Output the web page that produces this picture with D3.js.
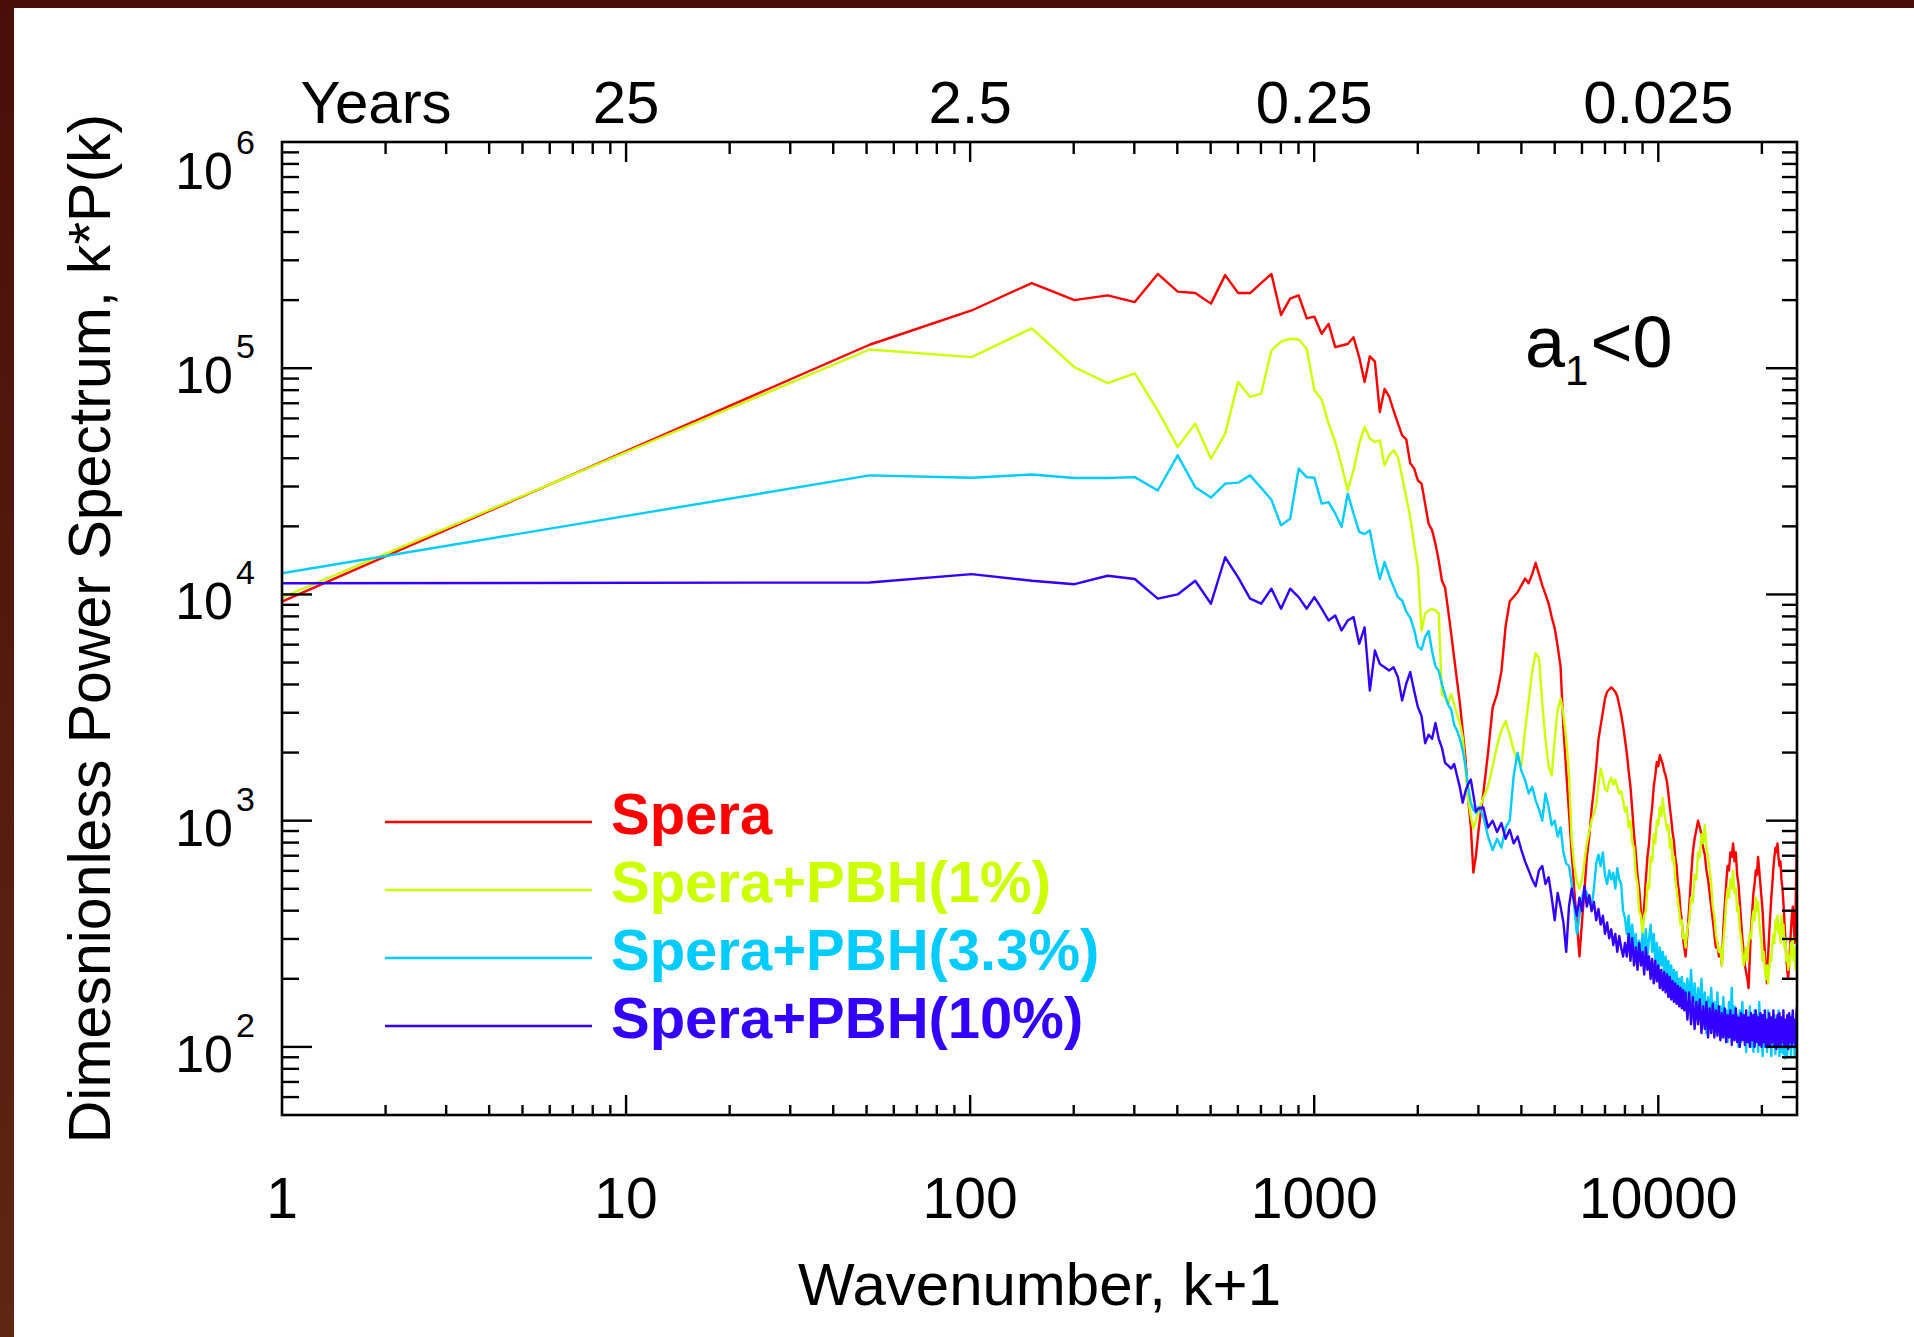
<!DOCTYPE html>
<html><head><meta charset="utf-8">
<script src="https://cdn.jsdelivr.net/npm/d3@7"></script>
<style>html,body{margin:0;padding:0;background:#fff;overflow:hidden;} svg{display:block;} text{font-family:"Liberation Sans",Arial,Helvetica,sans-serif;}</style>
</head><body>
<svg id="chart" width="1914" height="1337"></svg>
<script>
// ---------------- DATA ----------------
// wavenumber k+1, coarse part (data spacing 50)
const wavenumberLow = [
  1, 51, 101, 151, 201, 251, 301, 351, 401, 451,
  501, 551, 601, 651, 701, 751, 801, 851, 901, 951,
  1001, 1051, 1101, 1151, 1201, 1251, 1301, 1351, 1401, 1451,
  1501, 1551, 1601, 1651, 1701, 1751, 1801, 1851, 1901, 1951,
  2001, 2051, 2101, 2151, 2201, 2251, 2301, 2351, 2401, 2451,
  2501, 2551, 2601, 2651, 2701, 2751, 2801, 2851, 2901, 2951,
  3001];
// wavenumber k+1, dense part (read-off positions)
const wavenumberHigh = [
  3100, 3200, 3300, 3400, 3500, 3600, 3700, 3800, 3900, 4000,
  4100, 4200, 4300, 4400, 4500, 4600, 4700, 4800, 4900, 5000,
  5100, 5200, 5300, 5400, 5500, 5600, 5700, 5800, 5900, 6000,
  6100, 6200, 6300, 6400, 6500, 6600, 6700, 6800, 6900, 7000,
  7100, 7200, 7300, 7400, 7500, 7600, 7700, 7800, 7900, 8000,
  8100, 8200, 8300, 8400, 8500, 8600, 8700, 8800, 8900, 9000,
  9100, 9200, 9300, 9400, 9500, 9600, 9700, 9800, 9900, 10000,
  10100, 10200, 10300, 10400, 10500, 10600, 10700, 10800, 10900, 11000,
  11100, 11200, 11300, 11400, 11500, 11600, 11700, 11800, 11900, 12000,
  12150, 12300, 12450, 12600, 12750, 12900, 13050, 13200, 13350, 13500,
  13650, 13800, 13950, 14100, 14250, 14400, 14550, 14700, 14850, 15000,
  15150, 15300, 15450, 15600, 15750, 15900, 16050, 16200, 16350, 16500,
  16650, 16800, 16950, 17100, 17250, 17400, 17550, 17700, 17850, 18000,
  18150, 18300, 18450, 18600, 18750, 18900, 19050, 19200, 19350, 19500,
  19650, 19800, 19950, 20100, 20250, 20400, 20550, 20700, 20850, 21000,
  21150, 21300, 21450, 21600, 21750, 21900, 22050, 22200, 22350, 22500,
  22650, 22800, 22950, 23100, 23250, 23400, 23550, 23700, 23850, 24000,
  24150, 24300, 24450, 24600, 24750, 24900, 25050, 25200, 25300];

const speraLow = [
  9300, 127000, 180000, 238000, 200000, 210000, 196000, 261000, 218000, 215000,
  193000, 258000, 215000, 215000, 238000, 261000, 172000, 203000, 210000, 166000,
  169000, 142000, 157000, 124000, 126000, 128000, 137000, 112000, 87000, 113000,
  107000, 64000, 81000, 75000, 65000, 57000, 50500, 48500, 38000, 36100,
  31900, 30900, 25100, 20500, 19200, 16700, 14100, 11500, 10700, 8500,
  6700, 5250, 4150, 3300, 2500, 1900, 1250, 950, 590, 700,
  900];
const speraHigh = [
  1318, 1995, 3162, 3631, 4571, 7244, 9333, 9772, 10230, 10960,
  11750, 11220, 12300, 13800, 12300, 10960, 10000, 9120, 7943, 7079,
  5888, 4786, 2570, 1660, 1096, 724, 490, 355, 251, 355,
  490, 692, 851, 1122, 1380, 1738, 2291, 2630, 3020, 3467,
  3715, 3802, 3890, 3802, 3715, 3548, 3236, 2951, 2630, 2291,
  1995, 1660, 1413, 1122, 871, 724, 575, 501, 398, 331,
  417, 550, 692, 794, 1000, 1148, 1413, 1585, 1820, 1738,
  1950, 1862, 1778, 1660, 1585, 1479, 1318, 1148, 1023, 891,
  813, 692, 631, 525, 479, 398, 363, 302, 275, 251,
  316, 417, 562, 724, 832, 912, 1000, 933, 871, 759,
  708, 603, 550, 479, 417, 363, 316, 275, 288, 251,
  269, 229, 331, 417, 525, 631, 603, 724, 692, 794,
  661, 724, 575, 525, 437, 363, 302, 263, 229, 214,
  200, 182, 251, 331, 398, 479, 525, 603, 575, 692,
  603, 525, 457, 398, 316, 263, 219, 191, 251, 316,
  380, 457, 525, 617, 692, 759, 724, 794, 692, 631,
  661, 550, 501, 437, 363, 302, 251, 219, 200, 229,
  275, 331, 380, 417, 347, 288, 398, 631, 1000];

const pbh1Low = [
  9700, 121000, 112000, 150000, 101000, 86000, 95000, 65000, 44900, 56900,
  39800, 51400, 87000, 74700, 77200, 120000, 131000, 135000, 134000, 122000,
  80000, 72700, 56900, 47200, 37200, 28800, 35400, 46400, 55000, 48900,
  47200, 48000, 37200, 41200, 43400, 40500, 33100, 26900, 22000, 16700,
  13200, 6930, 8220, 8500, 8640, 8500, 8220, 3630, 3510, 3280,
  3630, 3280, 2960, 2680, 2340, 1700, 1250, 1050, 920, 1000,
  1100];
const pbh1High = [
  1259, 1413, 1738, 2138, 2512, 2754, 2399, 2042, 1862, 1738,
  2512, 3388, 4571, 5495, 5248, 3311, 2291, 1738, 1585, 2291,
  3090, 3467, 2951, 2291, 1622, 832, 631, 537, 501, 550,
  661, 794, 891, 1000, 1072, 1175, 1445, 1698, 1549, 1380,
  1349, 1479, 1549, 1445, 1514, 1413, 1318, 1349, 1230, 1096,
  1148, 933, 1000, 794, 759, 575, 525, 398, 380, 316,
  380, 398, 525, 501, 692, 661, 871, 794, 1000, 955,
  1148, 1047, 1259, 1096, 1000, 912, 955, 759, 832, 661,
  692, 550, 501, 437, 398, 347, 363, 302, 316, 275,
  331, 363, 457, 437, 575, 550, 724, 692, 871, 794,
  955, 759, 692, 603, 525, 417, 380, 316, 288, 263,
  275, 229, 288, 347, 437, 501, 457, 550, 501, 603,
  479, 501, 398, 417, 331, 302, 263, 229, 251, 275,
  240, 288, 316, 302, 363, 398, 363, 457, 398, 437,
  363, 316, 288, 240, 263, 219, 200, 229, 191, 219,
  251, 240, 288, 316, 288, 363, 331, 380, 316, 347,
  288, 380, 316, 347, 275, 302, 240, 263, 219, 251,
  229, 288, 251, 302, 240, 275, 219, 263, 240];

const pbh33Low = [
  12400, 33600, 32800, 33900, 32700, 32700, 33000, 28800, 41200, 29800,
  26800, 30900, 31200, 33600, 29600, 26200, 20200, 21600, 36000, 33000,
  32800, 25200, 25600, 22800, 19900, 27900, 22800, 18900, 18500, 19200,
  14600, 11700, 13900, 12100, 10800, 9730, 9400, 8400, 7900, 7000,
  5900, 5700, 6500, 6900, 5600, 4800, 4600, 4000, 3600, 3250,
  3100, 2650, 2500, 2300, 2050, 1750, 1400, 1200, 1120, 1080,
  1150];
const pbh33High = [
  1047, 851, 741, 832, 759, 933, 1000, 1585, 1995, 1660,
  1514, 1318, 1413, 1230, 1122, 1000, 1318, 1148, 955, 1000,
  851, 933, 724, 646, 631, 525, 417, 316, 380, 457,
  501, 479, 437, 417, 501, 646, 708, 631, 724, 575,
  525, 603, 550, 589, 501, 617, 550, 525, 398, 372,
  316, 380, 288, 347, 275, 316, 251, 295, 240, 316,
  263, 331, 251, 302, 347, 263, 316, 240, 288, 219,
  275, 229, 263, 209, 251, 200, 240, 191, 229, 182,
  219, 174, 214, 166, 200, 158, 204, 166, 191, 151,
  200, 158, 219, 151, 191, 138, 182, 145, 200, 132,
  174, 115, 166, 132, 182, 126, 158, 120, 174, 126,
  151, 110, 166, 120, 145, 105, 158, 126, 182, 115,
  151, 110, 138, 100, 145, 105, 158, 115, 138, 95,
  132, 105, 151, 100, 132, 95, 145, 110, 138, 95,
  158, 105, 132, 91, 138, 100, 126, 95, 145, 105,
  126, 91, 132, 100, 138, 93, 126, 105, 145, 91,
  120, 95, 132, 93, 126, 89, 115, 91, 132, 100,
  120, 91, 138, 105, 126, 91, 120, 100, 145];

const pbh10Low = [
  11200, 11300, 12300, 11500, 11100, 12100, 11700, 9580, 10000, 11500,
  9100, 14600, 11900, 9580, 9100, 10600, 8650, 10600, 9730, 8650,
  9730, 8650, 7670, 8070, 6930, 7670, 7940, 6050, 7160, 3760,
  5650, 4930, 4770, 4610, 4770, 4310, 3400, 4030, 4540, 3760,
  3180, 2900, 2200, 2400, 2300, 2700, 2300, 2100, 1800, 1750,
  1700, 1780, 1580, 1400, 1200, 1350, 1450, 1520, 1300, 1100,
  1130];
const pbh10High = [
  1148, 933, 1000, 891, 977, 832, 912, 794, 851, 741,
  661, 603, 550, 513, 603, 631, 525, 562, 457, 363,
  479, 417, 355, 263, 417, 501, 437, 380, 457, 398,
  513, 417, 468, 398, 437, 363, 407, 347, 380, 316,
  355, 302, 331, 282, 316, 263, 309, 275, 251, 288,
  251, 316, 240, 302, 229, 275, 219, 288, 229, 263,
  209, 275, 219, 251, 200, 245, 191, 240, 195, 229,
  182, 219, 178, 214, 174, 209, 166, 204, 162, 195,
  158, 191, 155, 186, 151, 182, 148, 178, 145, 174,
  132, 174, 126, 166, 120, 158, 126, 162, 115, 151,
  120, 158, 110, 148, 115, 155, 110, 145, 112, 151,
  107, 141, 110, 148, 105, 138, 110, 145, 102, 138,
  107, 148, 105, 135, 100, 141, 107, 138, 102, 145,
  105, 135, 100, 141, 107, 138, 100, 145, 105, 135,
  102, 141, 100, 138, 105, 145, 100, 132, 102, 141,
  100, 135, 105, 145, 100, 132, 98, 138, 102, 141,
  100, 135, 105, 145, 100, 132, 102, 138, 98, 141,
  105, 135, 100, 145, 105, 132, 100, 138, 151];

const seriesNames = ["Spera", "Spera+PBH(1%)", "Spera+PBH(3.3%)", "Spera+PBH(10%)"];
const seriesColors = ["#ff0000", "#ccff00", "#00ccff", "#3300ff"];
const seriesLow = [speraLow, pbh1Low, pbh33Low, pbh10Low];
const seriesHigh = [speraHigh, pbh1High, pbh33High, pbh10High];

const xTickValues = [1, 10, 100, 1000, 10000];
const xTickLabels = ["1", "10", "100", "1000", "10000"];
const yearTickValues = [10, 100, 1000, 10000];
const yearTickLabels = ["25", "2.5", "0.25", "0.025"];
const yTickValues = [100, 1000, 10000, 100000, 1000000];
const yTickExponents = ["2", "3", "4", "5", "6"];

// ---------------- DRAW ----------------
const svg = d3.select("#chart");
const L = 282, R = 1797, T = 142, B = 1115;
const x = d3.scaleLog().domain([1, 25300]).range([L, R]);
const y = d3.scaleLog().domain([50, 1e6]).range([B, T]);

// page frame (dark strips)
const defs = svg.append("defs");
const grad = defs.append("linearGradient").attr("id", "side").attr("x1", 0).attr("y1", 0).attr("x2", 0).attr("y2", 1);
grad.append("stop").attr("offset", "0%").attr("stop-color", "#4a0e09");
grad.append("stop").attr("offset", "100%").attr("stop-color", "#5f2612");
svg.append("rect").attr("x", 0).attr("y", 0).attr("width", 1914).attr("height", 1337).attr("fill", "#fefefe");
svg.append("rect").attr("x", 0).attr("y", 0).attr("width", 14).attr("height", 1337).attr("fill", "url(#side)");
svg.append("rect").attr("x", 0).attr("y", 0).attr("width", 1914).attr("height", 8).attr("fill", "#4a0e09");

defs.append("clipPath").attr("id", "plotclip").append("rect")
  .attr("x", L).attr("y", T).attr("width", R - L).attr("height", B - T);

// data lines
const line = d3.line().x(d => x(d[0])).y(d => y(d[1]));
const lineG = svg.append("g").attr("clip-path", "url(#plotclip)");
seriesNames.forEach((name, i) => {
  const pts = wavenumberLow.map((k, j) => [k, seriesLow[i][j]])
    .concat(wavenumberHigh.map((k, j) => [k, seriesHigh[i][j]]));
  lineG.append("path").datum(pts)
    .attr("d", line)
    .attr("fill", "none")
    .attr("stroke", seriesColors[i])
    .attr("stroke-width", 2.4)
    .attr("stroke-linejoin", "round");
});

// ticks
const tickG = svg.append("g").attr("stroke", "#000").attr("stroke-width", 2.4);
const isMajor = v => Math.abs(Math.log10(v) - Math.round(Math.log10(v))) < 1e-9;
x.ticks().filter(v => v > 1 && v < 25300).forEach(v => {
  const px = x(v), maj = isMajor(v);
  tickG.append("line").attr("x1", px).attr("x2", px).attr("y1", B).attr("y2", B - (maj ? 20 : 10));
  tickG.append("line").attr("x1", px).attr("x2", px).attr("y1", T).attr("y2", T + (maj ? 20 : 12));
});
y.ticks().filter(v => v > 50 && v < 1e6).forEach(v => {
  const py = y(v), maj = isMajor(v);
  tickG.append("line").attr("y1", py).attr("y2", py).attr("x1", L).attr("x2", L + (maj ? 30 : 17));
  tickG.append("line").attr("y1", py).attr("y2", py).attr("x1", R).attr("x2", R - (maj ? 31 : 15));
});

// frame
svg.append("rect").attr("x", L).attr("y", T).attr("width", R - L).attr("height", B - T)
  .attr("fill", "none").attr("stroke", "#000").attr("stroke-width", 2.6);

// bottom tick labels
svg.append("g").selectAll("text").data(xTickValues).join("text")
  .attr("x", d => x(d)).attr("y", 1218)
  .attr("text-anchor", "middle").attr("font-size", 57).attr("fill", "#000")
  .text((d, i) => xTickLabels[i]);

// top (years) labels
svg.append("g").selectAll("text").data(yearTickValues).join("text")
  .attr("x", d => x(d)).attr("y", 123)
  .attr("text-anchor", "middle").attr("font-size", 60).attr("fill", "#000")
  .text((d, i) => yearTickLabels[i]);
svg.append("text").attr("x", L + 94).attr("y", 123).attr("text-anchor", "middle")
  .attr("font-size", 60).attr("fill", "#000").text("Years");

// left labels 10^n
const yl = svg.append("g");
yTickValues.forEach((v, i) => {
  const base = y(v) + (v === 1e6 ? 47 : 25);
  yl.append("text").attr("x", 233).attr("y", base).attr("text-anchor", "end")
    .attr("font-size", 52).attr("fill", "#000").text("10");
  yl.append("text").attr("x", 236).attr("y", base - 35).attr("text-anchor", "start")
    .attr("font-size", 34).attr("fill", "#000").text(yTickExponents[i]);
});

// axis titles
svg.append("text").attr("x", (L + R) / 2).attr("y", 1305).attr("text-anchor", "middle")
  .attr("font-size", 60).attr("fill", "#000").text("Wavenumber, k+1");
svg.append("text").attr("transform", `translate(110,${(T + B) / 2}) rotate(-90)`)
  .attr("text-anchor", "middle").attr("font-size", 59).attr("fill", "#000")
  .text("Dimesnionless Power Spectrum, k*P(k)");

// annotation a1<0
const ann = svg.append("text").attr("x", 1525).attr("y", 367).attr("font-size", 72).attr("fill", "#000");
ann.append("tspan").text("a");
ann.append("tspan").attr("font-size", 42).attr("dy", 18).text("1");
ann.append("tspan").attr("dy", -18).attr("dx", 2).text("<0");

// legend
const lg = svg.append("g");
seriesNames.forEach((name, i) => {
  const ly = 822 + i * 68;
  lg.append("line").attr("x1", 385).attr("x2", 592).attr("y1", ly).attr("y2", ly)
    .attr("stroke", seriesColors[i]).attr("stroke-width", 2.4);
  lg.append("text").attr("x", 611).attr("y", ly + 12).attr("font-size", 58)
    .attr("font-weight", "bold").attr("fill", seriesColors[i]).text(name);
});
</script>
</body></html>
